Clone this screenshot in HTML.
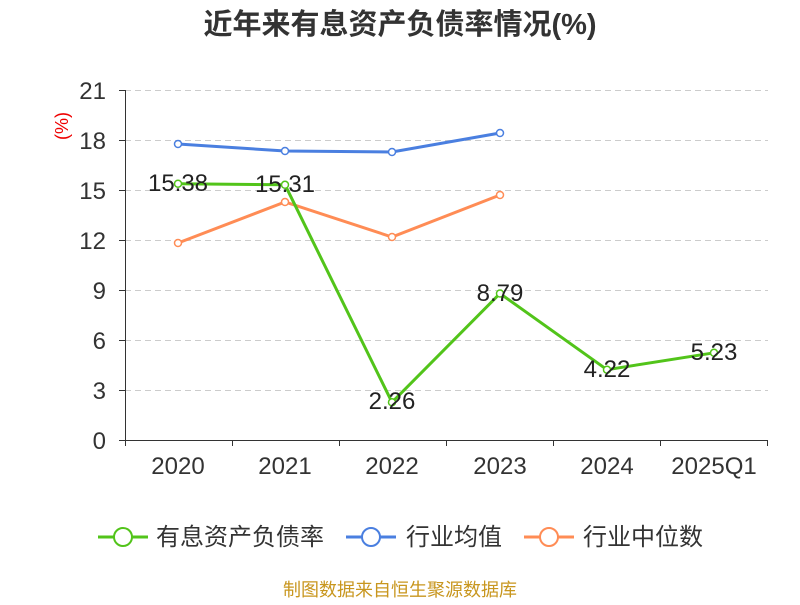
<!DOCTYPE html>
<html><head><meta charset="utf-8"><style>
body{margin:0;background:#fff;}
svg text{font-family:"Liberation Sans","Noto Sans CJK SC",sans-serif;}
</style></head><body>
<svg width="800" height="600" xmlns="http://www.w3.org/2000/svg">
<text x="400" y="34" text-anchor="middle" font-size="29" font-weight="bold" fill="#333">近年来有息资产负债率情况(%)</text>
<text x="68" y="126" text-anchor="middle" font-size="18" fill="#e00" transform="rotate(-90 68 126)">(%)</text>
<g stroke="#ccc" stroke-dasharray="6,4" stroke-width="1">
<line x1="125" x2="768" y1="90.5" y2="90.5"/><line x1="125" x2="768" y1="140.5" y2="140.5"/>
<line x1="125" x2="768" y1="190.5" y2="190.5"/><line x1="125" x2="768" y1="240.5" y2="240.5"/>
<line x1="125" x2="768" y1="290.5" y2="290.5"/><line x1="125" x2="768" y1="340.5" y2="340.5"/>
<line x1="125" x2="768" y1="390.5" y2="390.5"/>
</g>
<g stroke="#333" stroke-width="1">
<line x1="125.5" x2="125.5" y1="90" y2="440"/>
<line x1="125" x2="768" y1="440.5" y2="440.5"/>
<line x1="119" x2="125" y1="90.5" y2="90.5"/><line x1="119" x2="125" y1="140.5" y2="140.5"/>
<line x1="119" x2="125" y1="190.5" y2="190.5"/><line x1="119" x2="125" y1="240.5" y2="240.5"/>
<line x1="119" x2="125" y1="290.5" y2="290.5"/><line x1="119" x2="125" y1="340.5" y2="340.5"/>
<line x1="119" x2="125" y1="390.5" y2="390.5"/><line x1="119" x2="125" y1="440.5" y2="440.5"/>
<line x1="125.5" x2="125.5" y1="440" y2="446"/><line x1="232.5" x2="232.5" y1="440" y2="446"/>
<line x1="339.5" x2="339.5" y1="440" y2="446"/><line x1="446.5" x2="446.5" y1="440" y2="446"/>
<line x1="553.5" x2="553.5" y1="440" y2="446"/><line x1="660.5" x2="660.5" y1="440" y2="446"/>
<line x1="767.5" x2="767.5" y1="440" y2="446"/>
</g>
<g font-size="24" fill="#333" text-anchor="end">
<text x="106" y="99">21</text><text x="106" y="149">18</text><text x="106" y="199">15</text>
<text x="106" y="249">12</text><text x="106" y="299">9</text><text x="106" y="349">6</text>
<text x="106" y="399">3</text><text x="106" y="449">0</text>
</g>
<g font-size="24" fill="#333" text-anchor="middle">
<text x="178" y="474">2020</text><text x="285" y="474">2021</text><text x="392" y="474">2022</text>
<text x="500" y="474">2023</text><text x="607" y="474">2024</text><text x="714" y="474">2025Q1</text>
</g>
<polyline fill="none" stroke="#4a7fe0" stroke-width="3" points="178,144 285,151 392,152 500,133"/>
<g fill="#fff" stroke="#4a7fe0" stroke-width="1.5">
<circle cx="178" cy="144" r="3.5"/><circle cx="285" cy="151" r="3.5"/><circle cx="392" cy="152" r="3.5"/><circle cx="500" cy="133" r="3.5"/></g>
<polyline fill="none" stroke="#ff8c55" stroke-width="3" points="178,243 285,202 392,237 500,195"/>
<g fill="#fff" stroke="#ff8c55" stroke-width="1.5">
<circle cx="178" cy="243" r="3.5"/><circle cx="285" cy="202" r="3.5"/><circle cx="392" cy="237" r="3.5"/><circle cx="500" cy="195" r="3.5"/></g>
<polyline fill="none" stroke="#52c41a" stroke-width="3" points="178,183.7 285,184.8 392,402.3 500,293.5 607,369.7 714,352.8"/>
<g fill="#fff" stroke="#52c41a" stroke-width="1.5">
<circle cx="178" cy="183.7" r="3.5"/><circle cx="285" cy="184.8" r="3.5"/><circle cx="392" cy="402.3" r="3.5"/>
<circle cx="500" cy="293.5" r="3.5"/><circle cx="607" cy="369.7" r="3.5"/><circle cx="714" cy="352.8" r="3.5"/></g>
<g font-size="24" fill="#222" text-anchor="middle">
<text x="178" y="191">15.38</text><text x="285" y="192">15.31</text><text x="392" y="409">2.26</text>
<text x="500" y="301">8.79</text><text x="607" y="377">4.22</text><text x="714" y="360">5.23</text>
</g>
<g font-size="24" fill="#333">
<line x1="98" x2="148" y1="537" y2="537" stroke="#52c41a" stroke-width="3"/><circle cx="123" cy="537" r="9" fill="#fff" stroke="#52c41a" stroke-width="2"/>
<text x="156" y="545">有息资产负债率</text>
<line x1="346" x2="396" y1="537" y2="537" stroke="#4a7fe0" stroke-width="3"/><circle cx="371" cy="537" r="9" fill="#fff" stroke="#4a7fe0" stroke-width="2"/>
<text x="406" y="545">行业均值</text>
<line x1="524" x2="574" y1="537" y2="537" stroke="#ff8c55" stroke-width="3"/><circle cx="549" cy="537" r="9" fill="#fff" stroke="#ff8c55" stroke-width="2"/>
<text x="583" y="545">行业中位数</text>
</g>
<text x="400" y="596" text-anchor="middle" font-size="18" fill="#c8961e">制图数据来自恒生聚源数据库</text>
</svg>
</body></html>
